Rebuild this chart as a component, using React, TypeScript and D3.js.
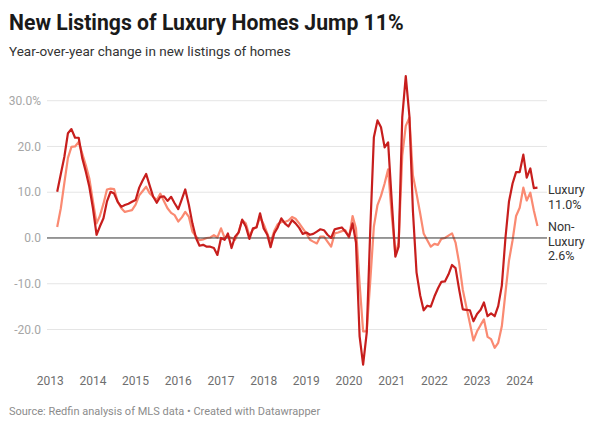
import React from "react";
import * as d3 from "d3";

// Monthly series, starting March 2013 and ending June 2024
const START_YEAR = 2013;
const START_MONTH = 2; // March (0-based)

const luxury: number[] = [
  10.1, 14, 17.7, 22.9, 23.8, 21.9, 21.9, 17.5, 14.5, 11.2, 6.5,
  0.7, 2.5, 4.3, 8, 10.1, 9.7, 7.9, 6.8, 7.2, 7.5, 7.9, 8.3,
  11, 12.5, 14, 11.5, 9, 7.7, 9, 9.1, 8.1, 9, 7.6, 6.3,
  8.5, 10.6, 7.2, 3.2, 0, -1.7, -1.5, -1.9, -1.9, -2.2, -3.7, 0,
  -0.4, 1, -2.2, 0.3, 1.2, 4, 2.5, -0.2, 2.1, 2.3, 5.4, 2.1,
  0.7, -2, 1, 2.3, 4.3, 3.2, 2.5, 3.9, 3.2, 2.2, 0.9, 1.2,
  0.7, 0.9, 1.4, 1.9, 1.7, 0.7, 0, 1.9, 2.1, 2.3, 1.4, 0.3,
  3.2, -1, -21.5, -27.7, -20.7, 1.7, 22, 25.7, 24.2, 19.8, 20.9, 8,
  -4.1, -1.9, 26.4, 35.4, 26.7, 6, -7.5, -12.5, -15.8, -14.8, -15, -12.8,
  -11, -9.6, -9.5, -8, -5.9, -6.6, -11.3, -15.6, -15.7, -15.8, -18.2, -16.6,
  -15.7, -14.1, -17.1, -16.5, -17.1, -14.9, -10.4, 0, 7.9, 11.9, 14.4, 14.4,
  18.2, 13.2, 15.2, 10.9, 11.0,
];

const nonLuxury: number[] = [
  2.4, 6.5, 12, 17.5, 19.9, 20, 21, 18.5, 15.9, 13, 8,
  3.2, 4.8, 7.5, 10.6, 10.8, 10.7, 7.9, 6.5, 5.7, 5.9, 6.1, 7.3,
  9.3, 10.2, 11.2, 9.8, 9, 8.3, 9.7, 8, 6.5, 5.5, 5, 3.6,
  4.5, 5.7, 4.6, 1.4, 0.3, -0.5, -0.3, 0, 0.1, 0.6, 0.1, 2.1,
  0, 0.3, 0, -0.4, 1.4, 3.9, 3.2, 0.5, 1.8, 2.5, 4.5, 3,
  1, -1, 1.5, 3, 3.5, 3.5, 3.8, 4.6, 4.2, 3.2, 2.1, 1,
  -0.4, -0.8, -1.2, 0.3, 0.3, -0.8, -1.9, 1, 1.2, 1.5, 1.7, 0.1,
  4.8, 2.1, -10, -20.4, -20.4, -9.5, 2.5, 7.2, 9.2, 11.9, 15, 5,
  -3.5, -1, 18, 24.5, 26.3, 13.7, 9.7, 5.4, 1, -0.5, -1.9, -1.3,
  -1.5, -0.2, 0, 0.5, 1, -1, -5.5, -11.3, -15, -18.7, -22.4, -20.4,
  -19, -17.8, -21.6, -22.1, -24, -22.9, -19.3, -12, -5, -0.5, 4.8, 6.6,
  11, 8.2, 9.9, 6, 2.6,
];

const yearTicks: number[] = [2013, 2014, 2015, 2016, 2017, 2018, 2019, 2020, 2021, 2022, 2023, 2024];
const yTicks: number[] = [30, 20, 10, 0, -10, -20];
const yTickLabels: string[] = ["30.0%", "20.0", "10.0", "0.0", "-10.0", "-20.0"];
const luxuryLabel: string[] = ["Luxury", "11.0%"];
const nonLuxuryLabel: string[] = ["Non-", "Luxury", "2.6%"];

const W = 600;
const H = 427;
const FONT = "Roboto, 'Noto Sans', sans-serif";

export default function App() {
  const x = d3
    .scaleTime()
    .domain([new Date(2013, 0, 1), new Date(2024, 0, 1)])
    .range([50.3, 519.7]);
  const y = d3.scaleLinear().domain([-20, 30]).range([329.5, 100.7]);

  const dates = luxury.map((_, k) => new Date(START_YEAR, START_MONTH + k, 1));
  const line = d3
    .line<number>()
    .x((_, i) => x(dates[i]))
    .y((d) => y(d));

  const gridX0 = 47;
  const gridX1 = 547;
  const labelGap = 14.6;

  return (
    <div style={{ position: "absolute", left: 0, top: 0 }}>
      <svg width={W} height={H} style={{ display: "block", background: "#fff" }} fontFamily={FONT}>
        <text x={9} y={30} fontSize={21.2} fontWeight={700} fill="#1a1a1a">
          New Listings of Luxury Homes Jump 11%
        </text>
        <text x={9} y={56} fontSize={13.5} fill="#333">
          Year-over-year change in new listings of homes
        </text>

        {yTicks.map((t, i) => (
          <g key={t}>
            {t !== 0 && (
              <line x1={gridX0} x2={gridX1} y1={y(t)} y2={y(t)} stroke="#e5e5e5" strokeWidth={1} />
            )}
            <text
              x={41}
              y={y(t)}
              dy="0.35em"
              textAnchor="end"
              fontSize={12}
              fill="#a6a6a6"
            >
              {yTickLabels[i]}
            </text>
          </g>
        ))}

        {yearTicks.map((yr) => (
          <text
            key={yr}
            x={x(new Date(yr, 0, 1))}
            y={385}
            textAnchor="middle"
            fontSize={12}
            fill="#6e6e6e"
          >
            {yr}
          </text>
        ))}

        <path
          d={line(nonLuxury) || ""}
          fill="none"
          stroke="#fa8a72"
          strokeWidth={2.2}
          strokeLinejoin="round"
        />
        <line x1={gridX0} x2={gridX1} y1={y(0)} y2={y(0)} stroke="#333" strokeWidth={1} />
        <path
          d={line(luxury) || ""}
          fill="none"
          stroke="#c71e1d"
          strokeWidth={2.2}
          strokeLinejoin="round"
        />

        {luxuryLabel.map((s, i) => (
          <text key={"l" + i} x={548} y={194 + i * labelGap} fontSize={12.5} fill="#333">
            {s}
          </text>
        ))}
        {nonLuxuryLabel.map((s, i) => (
          <text key={"n" + i} x={548} y={231 + i * labelGap} fontSize={12.5} fill="#333">
            {s}
          </text>
        ))}

        <text x={9} y={415} fontSize={11} fill="#8c8c8c">
          Source: Redfin analysis of MLS data • Created with Datawrapper
        </text>
      </svg>
    </div>
  );
}
